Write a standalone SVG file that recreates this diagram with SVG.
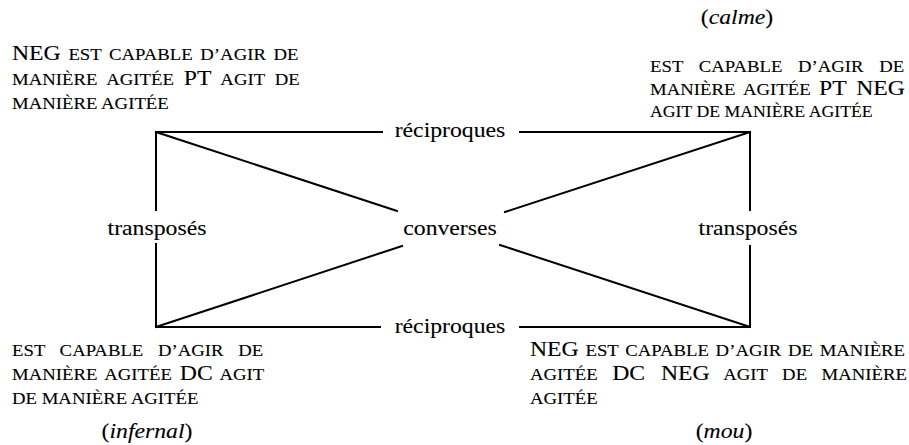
<svg xmlns="http://www.w3.org/2000/svg" width="909" height="445" viewBox="0 0 909 445">
<style>
.t { font-family: "Liberation Serif", "Times New Roman", serif; fill: #000; stroke: #000; stroke-width: 0.1px; }
.sc { font-size: 16.6px; }
.big { font-size: 21px; }
.lbl { font-size: 21px; text-anchor: middle; }
.it { font-style: italic; }
.c line { stroke: #000; stroke-width: 2; stroke-linecap: square; }
</style>
<rect width="909" height="445" fill="#fff"/>
<g id="connectors" class="c">
  <line x1="156" y1="132" x2="382" y2="132"/>
  <line x1="520" y1="132" x2="750" y2="132"/>
  <line x1="156" y1="327" x2="380" y2="327"/>
  <line x1="520" y1="327" x2="750" y2="327"/>
  <line x1="156" y1="132" x2="156" y2="210"/>
  <line x1="156" y1="244" x2="156" y2="327"/>
  <line x1="750" y1="132" x2="750" y2="210"/>
  <line x1="750" y1="246" x2="750" y2="327"/>
  <line x1="156" y1="132" x2="397" y2="211"/>
  <line x1="500" y1="245" x2="750" y2="327"/>
  <line x1="750" y1="132" x2="505" y2="212"/>
  <line x1="402" y1="246" x2="156" y2="327"/>
</g>
<g id="edge-labels" class="t">
  <text class="lbl" transform="translate(450,137) scale(1.13,1)">réciproques</text>
  <text class="lbl" transform="translate(450,333) scale(1.13,1)">réciproques</text>
  <text class="lbl" transform="translate(450,235) scale(1.13,1)">converses</text>
  <text class="lbl" transform="translate(157,235) scale(1.13,1)">transposés</text>
  <text class="lbl" transform="translate(748,235) scale(1.13,1)">transposés</text>
</g>
<g id="node-pt" class="t">
  <text class="sc" transform="translate(12,60) scale(1.13,1)" style="word-spacing:2.6px"><tspan class="big">NEG</tspan> EST CAPABLE D’AGIR DE</text>
  <text class="sc" transform="translate(12,84.5) scale(1.13,1)" style="word-spacing:4.6px">MANIÈRE AGITÉE <tspan class="big">PT</tspan> AGIT DE</text>
  <text class="sc" transform="translate(12,109) scale(1.13,1)">MANIÈRE AGITÉE</text>
</g>
<g id="node-calme" class="t">
  <text class="lbl" transform="translate(737,24) scale(1.13,1)">(<tspan class="it">calme</tspan>)</text>
  <text class="sc" transform="translate(650,72) scale(1.13,1)" style="word-spacing:9.7px">EST CAPABLE D’AGIR DE</text>
  <text class="sc" transform="translate(650,95) scale(1.13,1)" style="word-spacing:3.4px">MANIÈRE AGITÉE <tspan class="big">PT NEG</tspan></text>
  <text class="sc" transform="translate(650,117) scale(1.13,1)" textLength="197" lengthAdjust="spacingAndGlyphs">AGIT DE MANIÈRE AGITÉE</text>
</g>
<g id="node-infernal" class="t">
  <text class="sc" transform="translate(12,356) scale(1.13,1)" style="word-spacing:8.8px">EST CAPABLE D’AGIR DE</text>
  <text class="sc" transform="translate(12,380) scale(1.13,1)" style="word-spacing:2.8px">MANIÈRE AGITÉE <tspan class="big">DC</tspan> AGIT</text>
  <text class="sc" transform="translate(12,404) scale(1.13,1)">DE MANIÈRE AGITÉE</text>
  <text class="lbl" transform="translate(147,438) scale(1.13,1)">(<tspan class="it">infernal</tspan>)</text>
</g>
<g id="node-mou" class="t">
  <text class="sc" transform="translate(530,356) scale(1.13,1)" style="word-spacing:1.8px"><tspan class="big">NEG</tspan> EST CAPABLE D’AGIR DE MANIÈRE</text>
  <text class="sc" transform="translate(530,380) scale(1.13,1)" style="word-spacing:8.7px">AGITÉE <tspan class="big">DC NEG</tspan> AGIT DE MANIÈRE</text>
  <text class="sc" transform="translate(530,404) scale(1.13,1)">AGITÉE</text>
  <text class="lbl" transform="translate(724,438) scale(1.13,1)">(<tspan class="it">mou</tspan>)</text>
</g>
</svg>
